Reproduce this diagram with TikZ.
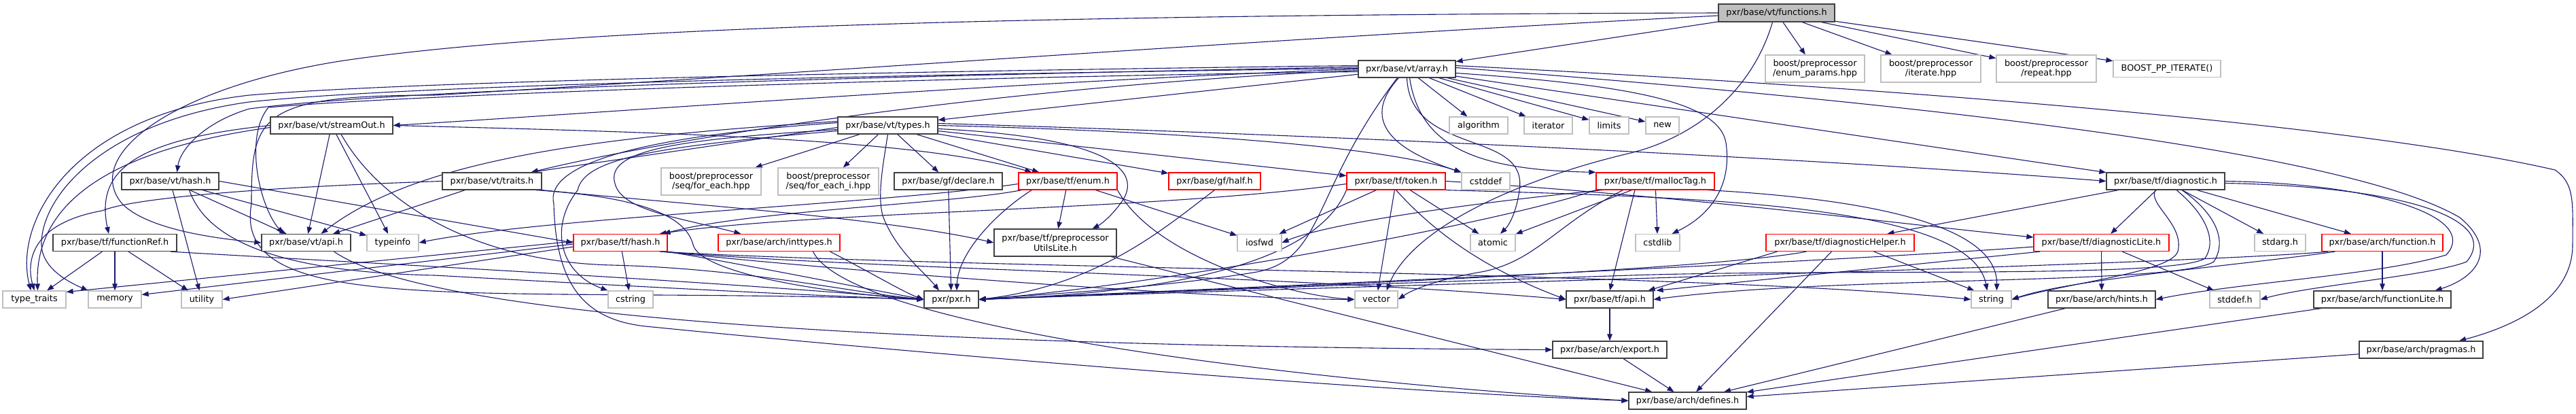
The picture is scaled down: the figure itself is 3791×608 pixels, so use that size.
\documentclass[tikz,border=0pt]{standalone}
\usepackage{fontspec}
\newfontfamily\dvsans{DejaVu Sans}
\usetikzlibrary{arrows.meta,calc}
\definecolor{edgeblue}{HTML}{191970}
\definecolor{boxdark}{HTML}{404040}
\definecolor{boxlight}{HTML}{BFBFBF}
\definecolor{boxred}{HTML}{FF0000}
\definecolor{fillgray}{HTML}{BFBFBF}
\pgfdeclarelayer{bg}
\pgfdeclarelayer{edges}
\pgfsetlayers{bg,edges,main}
\newcommand\gvfont{\dvsans\fontsize{12.8pt}{14.7pt}\selectfont}
\tikzset{
  nb/.style={draw=boxdark, line width=1.2pt, fill=white, inner sep=0pt, minimum height=25pt, font=\gvfont, align=center},
  sb/.style={nb, draw=boxlight},
  rb/.style={nb, draw=boxred},
  e/.style={draw=edgeblue, line width=1.1pt, -{Triangle[length=10pt,width=7.5pt]}},
}
\begin{document}
\begin{tikzpicture}[x=1pt,y=-1pt]
\useasboundingbox (0,0) rectangle (3791,608);
\begin{pgfonlayer}{bg}
\fill[white] (0,0) rectangle (3791,608);
\end{pgfonlayer}
% row 1
\node[nb, fill=fillgray, minimum width=171pt, minimum height=26pt] (F) at (2614.5,19) {pxr/base/vt/functions.h};
% row 2
\node[nb, minimum width=143pt] (A) at (2070.5,101.5) {pxr/base/vt/array.h};
\node[sb, minimum width=146pt, minimum height=40pt] (BEP) at (2671,101) {boost/preprocessor\\/enum\_params.hpp};
\node[sb, minimum width=147pt, minimum height=40pt] (BIT) at (2841.5,101) {boost/preprocessor\\/iterate.hpp};
\node[sb, minimum width=147pt, minimum height=40pt] (BRP) at (3011.5,101) {boost/preprocessor\\/repeat.hpp};
\node[sb, minimum width=158pt] (BPI) at (3189,101) {BOOST\_PP\_ITERATE()};
% row 3
\node[nb, minimum width=180pt] (SO) at (488,184.5) {pxr/base/vt/streamOut.h};
\node[nb, minimum width=147pt] (TY) at (1306.5,184.5) {pxr/base/vt/types.h};
\node[sb, minimum width=86pt] (ALG) at (2176,184.5) {algorithm};
\node[sb, minimum width=71pt] (ITR) at (2278.5,184.5) {iterator};
\node[sb, minimum width=58pt] (LIM) at (2368,184.5) {limits};
\node[sb, minimum width=49pt] (NEW) at (2446.5,184.5) {new};
% row 4
\node[nb, minimum width=143pt] (VH) at (250.5,266.5) {pxr/base/vt/hash.h};
\node[nb, minimum width=146pt] (TR) at (724,266.5) {pxr/base/vt/traits.h};
\node[sb, minimum width=147pt, minimum height=40pt] (SFE) at (1046.5,267) {boost/preprocessor\\/seq/for\_each.hpp};
\node[sb, minimum width=148pt, minimum height=40pt] (SFEI) at (1219,267) {boost/preprocessor\\/seq/for\_each\_i.hpp};
\node[nb, minimum width=159pt] (GD) at (1395.5,266.5) {pxr/base/gf/declare.h};
\node[rb, minimum width=145pt] (EN) at (1571.5,266.5) {pxr/base/tf/enum.h};
\node[rb, minimum width=135pt] (GH) at (1787.5,266.5) {pxr/base/gf/half.h};
\node[rb, minimum width=145pt] (TK) at (2054.5,266.5) {pxr/base/tf/token.h};
\node[sb, minimum width=71pt] (CDF) at (2186.5,266.5) {cstddef};
\node[rb, minimum width=174pt] (MT) at (2436,266.5) {pxr/base/tf/mallocTag.h};
\node[nb, minimum width=174pt] (DG) at (3187,266.5) {pxr/base/tf/diagnostic.h};
% row 5
\node[nb, minimum width=182pt] (FR) at (169,357) {pxr/base/tf/functionRef.h};
\node[nb, minimum width=131pt] (VA) at (450.5,357) {pxr/base/vt/api.h};
\node[sb, minimum width=76pt] (TI) at (578,357) {typeinfo};
\node[rb, minimum width=138pt] (TH) at (913,357) {pxr/base/tf/hash.h};
\node[rb, minimum width=179pt] (IT) at (1146.5,357) {pxr/base/arch/inttypes.h};
\node[nb, minimum width=180pt, minimum height=40pt] (PUL) at (1553,357) {pxr/base/tf/preprocessor\\UtilsLite.h};
\node[sb, minimum width=65pt] (IOS) at (1853.5,357) {iosfwd};
\node[sb, minimum width=66pt] (AT) at (2197,357) {atomic};
\node[sb, minimum width=65pt] (CSL) at (2439.5,357) {cstdlib};
\node[rb, minimum width=218pt] (DH) at (2708,357) {pxr/base/tf/diagnosticHelper.h};
\node[rb, minimum width=199pt] (DL) at (3092.5,357) {pxr/base/tf/diagnosticLite.h};
\node[sb, minimum width=75pt] (SA) at (3355.5,357) {stdarg.h};
\node[rb, minimum width=178pt] (AF) at (3506,357) {pxr/base/arch/function.h};
% row 6
\node[sb, minimum width=93pt] (TT) at (50.5,440.5) {type\_traits};
\node[sb, minimum width=78pt] (MEM) at (169,440.5) {memory};
\node[sb, minimum width=60pt] (UT) at (297,440.5) {utility};
\node[sb, minimum width=66pt] (CS) at (928,440.5) {cstring};
\node[nb, minimum width=80pt] (PXR) at (1400,440.5) {pxr/pxr.h};
\node[sb, minimum width=63pt] (VEC) at (2025.5,440.5) {vector};
\node[nb, minimum width=128pt] (TA) at (2369,440.5) {pxr/base/tf/api.h};
\node[sb, minimum width=59pt] (STR) at (2930.5,440.5) {string};
\node[nb, minimum width=158pt] (HI) at (3093,440.5) {pxr/base/arch/hints.h};
\node[sb, minimum width=74pt] (SD) at (3289,440.5) {stddef.h};
\node[nb, minimum width=202pt] (FL) at (3506,440.5) {pxr/base/arch/functionLite.h};
% row 7
\node[nb, minimum width=168pt] (EX) at (2369,514.5) {pxr/base/arch/export.h};
\node[nb, minimum width=182pt] (PR) at (3563,514.5) {pxr/base/arch/pragmas.h};
% row 8
\node[nb, minimum width=173pt] (DEF) at (2483.5,589.5) {pxr/base/arch/defines.h};

\begin{pgfonlayer}{edges}
% functions.h
\draw[e] (F) -- (A);
\draw[e] (F) -- (BEP);
\draw[e] (F) -- (BIT);
\draw[e] (F) -- (BRP);
\draw[e] (F) -- (BPI);
\draw[e] ($(F.south)+(-6,0)$) .. controls (2580,130) and (2500,200) .. (2400,225) .. controls (2250,260) and (2080,330) .. ($(VEC.north)+(15,0)$);
\draw[e] (F.west) .. controls (1400,22) and (800,45) .. (500,90) .. controls (250,130) and (120,230) .. (180,300) .. controls (220,340) and (330,352) .. (VA.west);
\draw[e] ($(F.west)+(0,4)$) .. controls (1900,55) and (1300,100) .. (640,140) .. controls (380,140) and (370,170) .. (370,300) .. controls (340,470) and (700,420) .. (PXR.west);
% array.h
\draw[e] (A.west) .. controls (1500,120) and (900,165) .. (SO.east);
\draw[e] ($(A.west)+(0,-3)$) .. controls (1300,112) and (600,130) .. (367,160) .. controls (300,180) and (265,220) .. ($(VH.north)+(10,0)$);
\draw[e] ($(A.west)+(0,2)$) .. controls (1500,125) and (1000,200) .. ($(TR.north east)+(-16,0)$);
\draw[e] (A) -- (TY);
\draw[e] ($(A.west)+(0,4)$) .. controls (1300,115) and (600,140) .. (395,158) .. controls (360,200) and (380,300) .. ($(VA.north)+(-34,0)$);
\draw[e] ($(A.west)+(0,-5)$) .. controls (1300,105) and (600,120) .. (367,140) .. controls (100,170) and (20,330) .. ($(TT.north)+(-5,0)$);
\draw[e] ($(A.west)+(0,-1)$) .. controls (1300,110) and (600,125) .. (367,150) .. controls (150,180) and (60,290) .. (61,360) .. controls (62,390) and (90,410) .. (MEM.north west);
\draw[e] ($(A.south west)+(58,0)$) .. controls (1930,280) and (1950,380) .. (1850,400) .. controls (1700,425) and (1500,435) .. (PXR.east);
\draw[e] ($(A.south west)+(60,0)$) .. controls (1990,190) and (2080,230) .. (CDF.north west);
\draw[e] (A) -- (ALG);
\draw[e] (A) -- (ITR);
\draw[e] (A) -- (LIM);
\draw[e] (A) -- (NEW);
\draw[e] ($(A.south)+(4,0)$) .. controls (2090,220) and (2180,250) .. (MT.north west);
\draw[e] (A) -- (DG);
\draw[e] (A.south) .. controls (2075,230) and (2250,190) .. (2236,280) .. controls (2232,310) and (2222,330) .. ($(AT.north)+(11,0)$);
\draw[e] ($(A.east)+(0,6)$) .. controls (2400,125) and (2530,150) .. (2540,210) .. controls (2550,280) and (2510,320) .. ($(CSL.north east)+(-12,0)$);
\draw[e] ($(A.east)+(0,-2)$) .. controls (2800,150) and (3450,220) .. (3620,320) .. controls (3680,370) and (3640,410) .. ($(FL.north east)+(-24,0)$);
\draw[e] ($(A.east)+(0,-5)$) .. controls (2900,135) and (3500,190) .. (3760,250) .. controls (3790,270) and (3786,300) .. (3786,360) .. controls (3786,440) and (3700,480) .. ($(PR.north)+(56,0)$);
% streamOut.h
\draw[e] (SO.west) .. controls (200,205) and (140,250) .. ($(FR.north)+(-9,0)$);
\draw[e] ($(SO.west)+(0,3)$) .. controls (200,215) and (50,280) .. ($(TT.north)+(5,0)$);
\draw[e] (SO) -- (VA);
\draw[e] (SO) -- (TI);
\draw[e] (SO.east) .. controls (1000,195) and (1350,205) .. ($(EN.north west)+(20,0)$);
\draw[e] ($(SO.south)+(14,0)$) .. controls (560,300) and (700,385) .. (900,390) .. controls (1100,395) and (1250,430) .. (PXR.west);
% vt/hash.h
\draw[e] (VH) -- (UT);
\draw[e] (VH) -- (VA);
\draw[e] (VH) -- (TI);
\draw[e] (VH.east) -- (TH.west);
\draw[e] ($(VH.south)+(28,0)$) .. controls (300,340) and (380,400) .. (640,405) .. controls (1000,425) and (1200,435) .. (PXR.west);
% functionRef.h
\draw[e] (FR) -- (TT);
\draw[e] (FR) -- (MEM);
\draw[e] (FR) -- (UT);
\draw[e] ($(FR.south east)+(-10,0)$) .. controls (500,385) and (1000,410) .. (PXR.west);
% traits.h
\draw[e] (TR) -- (VA);
\draw[e] (TR.south east) .. controls (1000,300) and (1300,320) .. (PUL.west);
\draw[e] (TR.west) .. controls (400,275) and (200,290) .. (150,310) .. controls (40,330) and (40,390) .. (TT.north);
\draw[e] ($(TR.south east)+(-10,0)$) .. controls (950,290) and (1010,320) .. (1020,360) .. controls (1030,400) and (1200,430) .. (PXR.west);
% types.h
\draw[e] ($(TY.west)+(0,3)$) -- ($(TR.north east)+(-16,0)$);
\draw[e] (TY) -- (SFE);
\draw[e] (TY) -- (SFEI);
\draw[e] (TY) -- (GD);
\draw[e] (TY) -- (EN);
\draw[e] (TY) -- (GH);
\draw[e] (TY) -- (TK);
\draw[e] (TY.east) .. controls (1800,195) and (2050,220) .. (CDF.north west);
\draw[e] ($(TY.east)+(0,5)$) .. controls (1600,200) and (1680,240) .. (1655,290) .. controls (1640,315) and (1620,330) .. ($(PUL.north east)+(-36,0)$);
\draw[e] ($(TY.west)+(0,6)$) .. controls (1000,205) and (890,220) .. (905,270) .. controls (915,310) and (1000,320) .. ($(IT.north west)+(34,0)$);
\draw[e] ($(TY.west)+(0,8)$) .. controls (980,215) and (860,230) .. (850,280) .. controls (810,330) and (820,400) .. (CS.north west);
\draw[e] ($(TY.west)+(0,-4)$) .. controls (950,200) and (800,240) .. (815,300) .. controls (818,420) and (860,470) .. (950,480) .. controls (1300,515) and (2000,575) .. (DEF.west);
\draw[e] ($(TY.west)+(0,-6)$) .. controls (900,200) and (620,230) .. ($(VA.north)+(22,0)$);
\draw[e] (TY.south) .. controls (1300,240) and (1290,290) .. (1300,320) .. controls (1320,370) and (1360,400) .. ($(PXR.north)+(-18,0)$);
\draw[e] ($(TY.east)+(0,-3)$) .. controls (2000,200) and (2700,235) .. (DG.west);
% gf
\draw[e] (GD) -- (PXR);
\draw[e] (GH.south) .. controls (1720,330) and (1620,420) .. (PXR.east);
% tf/enum.h
\draw[e] ($(EN.south west)+(5,0)$) .. controls (1400,300) and (1100,310) .. ($(TH.north east)+(-6,0)$);
\draw[e] (EN) -- (PUL);
\draw[e] ($(EN.south west)+(20,0)$) .. controls (1470,310) and (1410,370) .. ($(PXR.north)+(8,0)$);
\draw[e] (EN) -- (IOS);
\draw[e] (EN.south east) .. controls (1700,380) and (1900,435) .. (VEC.west);
\draw[e] ($(EN.west)+(0,4)$) .. controls (1300,300) and (800,320) .. (TI.east);
% tf/token.h
\draw[e] (TK.south west) .. controls (1940,380) and (1750,430) .. (PXR.east);
\draw[e] (TK.south) .. controls (2100,330) and (2170,390) .. (TA.west);
\draw[e] (TK) -- (AT);
\draw[e] (TK) -- (VEC);
\draw[e] (TK) -- (IOS);
\draw[e] ($(TK.west)+(0,4)$) .. controls (1700,310) and (1200,310) .. ($(TH.north east)+(-12,0)$);
\draw[e] (TK.south east) .. controls (2500,290) and (2900,300) .. ($(STR.north)+(-6,0)$);
\draw[e] (TK.east) .. controls (2500,290) and (2800,330) .. ($(DL.west)+(0,-8)$);
% mallocTag.h
\draw[e] ($(MT.south)+(-30,0)$) -- (TA.north);
\draw[e] (MT) -- (AT);
\draw[e] (MT) -- (CSL);
\draw[e] ($(MT.south west)+(40,0)$) .. controls (2290,330) and (2260,385) .. (2180,400) .. controls (2120,410) and (2080,425) .. (VEC.east);
\draw[e] (MT.south west) .. controls (2200,330) and (1700,420) .. (PXR.east);
\draw[e] ($(MT.south west)+(10,0)$) .. controls (2150,300) and (1950,330) .. (IOS.east);
\draw[e] ($(MT.south east)+(-10,0)$) .. controls (2700,290) and (2940,320) .. ($(STR.north)+(8,0)$);
% diagnostic.h
\draw[e] (DG) -- (DH);
\draw[e] (DG) -- (DL);
\draw[e] (DG) -- (SA);
\draw[e] (DG) -- (AF);
\draw[e] ($(DG.south)+(16,0)$) .. controls (3240,310) and (3265,350) .. (3245,380) .. controls (3200,410) and (2700,395) .. (2400,405) .. controls (2000,418) and (1700,430) .. (PXR.east);
\draw[e] ($(DG.south)+(24,0)$) .. controls (3255,310) and (3280,350) .. (3258,385) .. controls (3200,420) and (2700,405) .. (TA.east);
\draw[e] ($(DG.south)+(-15,0)$) .. controls (3160,300) and (3215,330) .. (3205,370) .. controls (3195,400) and (3050,415) .. (STR.east);
\draw[e] (DG.east) .. controls (3500,270) and (3650,320) .. (3600,375) .. controls (3500,405) and (3300,415) .. (HI.east);
\draw[e] ($(DG.east)+(0,3)$) .. controls (3550,275) and (3680,325) .. (3630,385) .. controls (3580,405) and (3400,420) .. (SD.east);
% diagnosticHelper.h
\draw[e] (DH) -- (DEF);
\draw[e] ($(DH.south east)+(-60,0)$) -- ($(STR.north west)+(5,0)$);
\draw[e] ($(DH.south west)+(17,0)$) -- ($(TA.north east)+(-8,0)$);
\draw[e] ($(DH.south west)+(60,0)$) .. controls (2500,400) and (1800,425) .. (PXR.east);
% diagnosticLite.h
\draw[e] (DL) -- (HI);
\draw[e] (DL) -- (SD);
\draw[e] ($(DL.south west)+(10,0)$) -- ($(TA.north east)+(4,0)$);
\draw[e] ($(DL.west)+(0,6)$) .. controls (2700,385) and (1900,420) .. (PXR.east);
% arch/function.h
\draw[e] (AF) -- (FL);
\draw[e] ($(AF.south west)+(20,0)$) .. controls (3300,390) and (3050,410) .. (STR.east);
\draw[e] ($(AF.south west)+(10,0)$) .. controls (3200,390) and (2000,420) .. (PXR.east);
% tf/hash.h
\draw[e] (TH) -- (CS);
\draw[e] ($(TH.west)+(0,6)$) -- (UT.east);
\draw[e] ($(TH.west)+(0,2)$) -- ($(MEM.east)+(0,-7)$);
\draw[e] ($(TH.west)+(0,-2)$) -- ($(TT.east)+(0,-11)$);
\draw[e] (TH.south east) .. controls (1100,390) and (1250,420) .. (PXR.west);
\draw[e] ($(TH.south east)+(-4,0)$) .. controls (1250,395) and (1900,405) .. (TA.west);
\draw[e] ($(TH.south east)+(-8,0)$) .. controls (1250,400) and (1800,440) .. (VEC.west);
\draw[e] ($(TH.south east)+(-12,0)$) .. controls (1400,395) and (2500,400) .. (STR.west);
% arch/inttypes.h
\draw[e] ($(IT.south east)+(-15,0)$) .. controls (1280,400) and (1330,430) .. (PXR.west);
\draw[e] ($(IT.south east)+(-40,0)$) .. controls (1250,480) and (1900,560) .. (DEF.west);
% preprocessorUtilsLite.h
\draw[e] (PUL) -- (DEF);
% api / export / defines
\draw[e] ($(VA.south east)+(-25,0)$) .. controls (650,480) and (1500,510) .. (EX.west);
\draw[e] (TA) -- (EX);
\draw[e] (EX) -- (DEF);
\draw[e] (HI) -- (DEF);
\draw[e] (FL) -- (DEF);
\draw[e] (PR) -- (DEF);
\end{pgfonlayer}
\end{tikzpicture}
\end{document}
